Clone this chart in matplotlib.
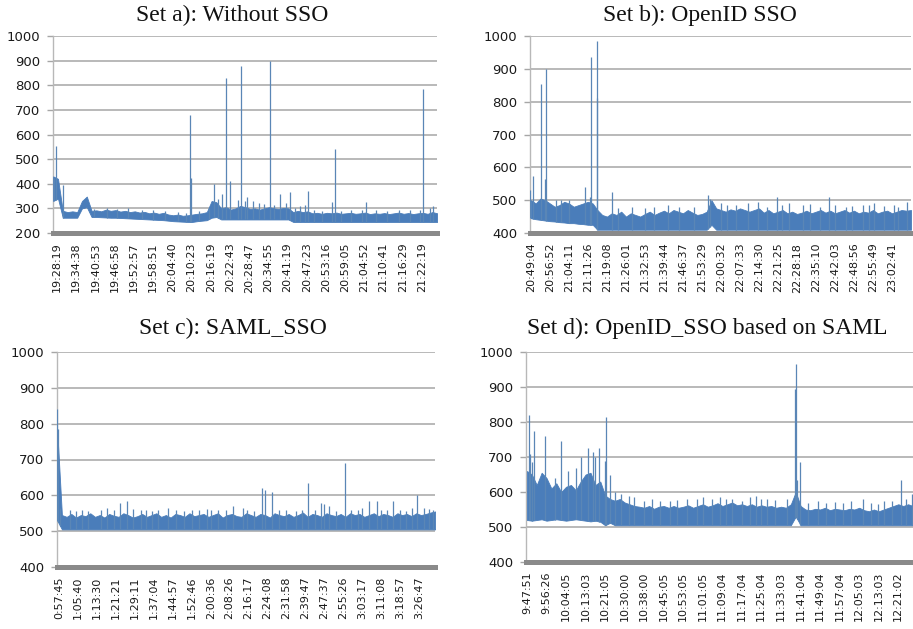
import numpy as np
import matplotlib
matplotlib.use("Agg")
import matplotlib.pyplot as plt

# ---------------- data ----------------
titles = ["Set a): Without SSO", "Set b): OpenID SSO",
          "Set c): SAML_SSO", "Set d): OpenID_SSO based on SAML"]

a_ticks = ["19:28:19", "19:34:38", "19:40:53", "19:46:58", "19:52:57", "19:58:51",
           "20:04:40", "20:10:23", "20:16:19", "20:22:43", "20:28:47", "20:34:55",
           "20:41:19", "20:47:23", "20:53:16", "20:59:05", "21:04:52", "21:10:41",
           "21:16:29", "21:22:19"]
b_ticks = ["20:49:04", "20:56:52", "21:04:11", "21:11:26", "21:19:08", "21:26:01",
           "21:32:53", "21:39:44", "21:46:37", "21:53:29", "22:00:32", "22:07:33",
           "22:14:30", "22:21:25", "22:28:18", "22:35:10", "22:42:03", "22:48:56",
           "22:55:49", "23:02:41"]
c_ticks = ["0:57:45", "1:05:40", "1:13:30", "1:21:21", "1:29:11", "1:37:04",
           "1:44:57", "1:52:46", "2:00:36", "2:08:26", "2:16:17", "2:24:08",
           "2:31:58", "2:39:47", "2:47:37", "2:55:26", "3:03:17", "3:11:08",
           "3:18:57", "3:26:47"]
d_ticks = ["9:47:51", "9:56:26", "10:04:05", "10:13:03", "10:21:05", "10:30:00",
           "10:38:00", "10:45:05", "10:53:05", "11:01:05", "11:09:04", "11:17:04",
           "11:25:04", "11:33:03", "11:41:04", "11:49:04", "11:57:04", "12:05:03",
           "12:13:03", "12:21:02"]

# upper / lower envelope of the dense response-time band (ms)
a_high = [430, 420, 290, 285, 288, 285, 330, 348, 290, 292,
          288, 295, 290, 293, 287, 290, 285, 288, 283, 286,
          280, 283, 278, 282, 275, 272, 275, 270, 272, 275,
          278, 280, 285, 330, 325, 300, 305, 295, 300, 310,
          305, 298, 300, 295, 300, 305, 300, 298, 302, 300,
          285, 290, 285, 288, 280, 282, 278, 282, 280, 283,
          278, 280, 282, 278, 280, 283, 277, 280, 278, 281,
          277, 280, 283, 278, 281, 277, 280, 282, 278, 285,
          280]
a_low = ([330, 340, 262, 262, 262, 262, 300, 305, 265, 265,
          264, 263, 262, 262, 261, 260, 259, 258, 257, 256,
          255, 254, 253, 252, 250, 248, 247, 246, 245, 245,
          248, 250, 252, 262, 265, 255, 255, 255, 255, 255,
          255, 255, 255, 255, 255, 255, 255, 255, 255, 255]
         + [245] * 31)
a_spike_x = [-0.07, -0.15, 0.3, 6.95, 6.98, 8.16, 8.6, 8.79, 9.0, 9.4, 9.57, 9.8,
             9.9, 10.2, 11.1, 11.6, 12.15, 12.65, 12.9, 13.05, 14.3, 14.48, 16.07,
             19.08, 19.6,
             1.9, 2.6, 3.1, 3.7, 4.4, 5.0, 5.6, 6.3, 6.7, 7.4, 7.9, 8.4, 10.5, 10.8,
             11.3, 11.9, 12.4, 13.4, 13.8, 14.8, 15.3, 15.9, 16.6, 17.2, 17.8, 18.4,
             18.9, 19.4]
a_spike_y = [555, 425, 395, 680, 425, 400, 360, 830, 410, 335, 880, 330,
             345, 330, 900, 360, 365, 310, 315, 370, 325, 540, 325,
             785, 310,
             298, 300, 296, 300, 295, 292, 290, 285, 282, 290, 300, 340, 320, 318,
             315, 320, 300, 295, 290, 290, 295, 292, 293, 290, 295, 292,
             295, 300]

b_high = [500, 490, 505, 500, 490, 480, 485, 495, 490, 480,
          485, 490, 495, 490, 470, 455, 450, 460, 455, 465,
          450, 460, 455, 450, 458, 465, 455, 462, 468, 460,
          470, 465, 460, 470, 462, 455, 458, 465, 500, 475,
          470, 465, 472, 468, 475, 470, 465, 470, 475, 462,
          470, 460, 465, 470, 460, 465, 458, 462, 468, 460,
          465, 470, 462, 468, 460, 465, 470, 462, 468, 460,
          465, 462, 470, 460, 465, 468, 460, 465, 470, 468,
          470]
b_low = ([445, 442, 440, 438, 436, 435, 433, 432, 430, 430, 428, 427, 425, 425]
         + [410] * 24 + [425] + [410] * 42)
b_spike_x = [-0.05, 0.1, 0.53, 0.74, 0.77, 1.3, 1.6, 2.0, 2.85, 3.1, 3.16, 3.45,
             3.5, 4.25, 6.0, 7.8, 9.3, 9.4, 10.3, 11.95, 12.95, 13.6, 14.3, 15.7,
             16.6, 17.5, 18.05, 19.3, 19.77,
             4.6, 5.3, 6.5, 7.2, 8.6, 10.0, 10.8, 11.4, 12.4, 13.2, 14.7, 15.2,
             16.0, 16.9, 17.8, 18.6, 19.1]
b_spike_y = [530, 575, 855, 565, 900, 500, 500, 500, 540, 510, 935, 985,
             810, 525, 475, 480, 515, 505, 485, 495, 510, 490, 485, 510,
             480, 485, 490, 480, 495,
             475, 480, 478, 485, 480, 490, 485, 490, 480, 485, 488, 480,
             485, 482, 485, 482, 485]

c_high = [785,
          545, 540, 548, 538, 545, 542, 550, 540, 545, 538,
          548, 543, 540, 550, 545, 538, 542, 548, 540, 545,
          550, 540, 545, 538, 548, 545, 540, 550, 542, 545,
          548, 540, 545, 550, 538, 545, 548, 542, 540, 550,
          545, 540, 548, 545, 538, 550, 545, 542, 548, 540,
          545, 552, 540, 548, 545, 540, 550, 545, 542, 548,
          540, 550, 545, 548, 540, 545, 550, 542, 548, 545,
          540, 550, 545, 548, 542, 550, 545, 548, 552, 555]
c_low = [530] + [505] * 80
c_spike_x = [-0.12, -0.05, 0.05, 0.6, 1.5, 2.55, 2.9, 3.2, 3.57, 4.3, 4.9, 5.73,
             6.15, 7.4, 8.0, 9.2, 9.7, 10.73, 10.87, 11.26, 12.0, 12.5, 13.12,
             13.8, 13.98, 14.25, 15.09, 15.8, 16.36, 16.8, 17.3, 17.64, 18.3,
             18.88, 19.27, 19.75,
             0.9, 1.2, 2.2, 3.9, 4.6, 5.2, 6.6, 7.0, 7.8, 8.4, 8.8, 9.9, 10.3,
             11.6, 12.8, 13.5, 14.6, 15.4, 16.0, 17.0, 18.0, 18.6, 19.5]
c_spike_y = [840, 785, 565, 560, 555, 565, 560, 580, 585, 560, 555, 565,
             560, 560, 560, 570, 565, 620, 615, 610, 560, 555, 635,
             580, 575, 570, 690, 560, 585, 585, 560, 585, 555,
             600, 565, 560,
             555, 558, 558, 562, 558, 560, 555, 558, 562, 558, 560, 560, 555,
             560, 558, 560, 555, 560, 565, 560, 560, 565, 562]

d_high = [660, 650, 620, 655, 640, 610, 625, 600, 615, 620,
          605, 630, 650, 655, 620, 630, 590, 580, 575, 580,
          570, 565, 560, 558, 555, 560, 552, 558, 560, 555,
          560, 555, 558, 562, 555, 560, 565, 558, 562, 568,
          560, 565, 570, 562, 565, 560, 565, 558, 562, 558,
          560, 555, 558, 555, 565, 600, 560, 550, 548, 552,
          550, 555, 548, 552, 550, 548, 552, 550, 555, 548,
          545, 550, 545, 550, 555, 560, 565, 560, 565, 560]
d_low = ([520, 518, 520, 522, 518, 520, 522, 520, 518, 520, 522, 520, 518, 516, 518, 515]
         + [505, 512] + [505] * 37 + [530] + [505] * 24)
d_spike_x = [0.08, 0.13, 0.25, 0.37, 0.93, 1.43, 1.73, 2.12, 2.5, 2.75, 3.14, 3.36,
             3.5, 3.7, 3.99, 4.06, 4.23, 4.5, 5.5, 6.0, 7.3, 8.7, 9.5, 10.5, 11.0,
             11.73, 12.3, 13.72, 13.78, 13.83, 14.0, 15.3, 16.6, 17.2, 18.3, 19.15,
             19.7,
             4.8, 5.2, 6.4, 6.8, 7.7, 8.2, 9.0, 9.9, 10.2, 11.4, 12.0, 12.7, 13.3,
             14.4, 14.9, 15.8, 16.2, 17.6, 18.0, 18.7, 19.4]
d_spike_y = [820, 710, 685, 775, 760, 640, 745, 660, 670, 700, 725, 715,
             700, 725, 690, 815, 650, 600, 585, 575, 575, 580, 580, 580, 575,
             590, 580, 895, 965, 635, 685, 570, 575, 580, 575, 635,
             595,
             595, 590, 580, 575, 578, 580, 585, 585, 580, 585, 580, 578, 580,
             570, 575, 572, 570, 570, 565, 575, 580]

# ---------------- layout ----------------
W, H = 913, 629
fig = plt.figure(figsize=(W / 100, H / 100), dpi=100)

def px_axes(l, r, t, b):
    return fig.add_axes([l / W, 1 - b / H, (r - l) / W, (b - t) / H])

panels = [
    dict(rect=(53, 437, 36, 233), ticks=a_ticks, high=a_high, low=a_low,
         sx=a_spike_x, sy=a_spike_y, xr=(-0.21, 19.79), env=(-0.2, 19.8), ylim=(200, 1000),
         title_xy=(232, 15)),
    dict(rect=(530, 911, 36, 233), ticks=b_ticks, high=b_high, low=b_low,
         sx=b_spike_x, sy=b_spike_y, xr=(-0.05, 20.0), env=(0.0, 20.0), ylim=(400, 1000),
         title_xy=(700, 15)),
    dict(rect=(57, 435, 352, 567), ticks=c_ticks, high=c_high, low=c_low,
         sx=c_spike_x, sy=c_spike_y, xr=(-0.11, 19.84), env=(-0.1, 19.85), ylim=(400, 1000),
         title_xy=(233, 328)),
    dict(rect=(526, 913, 352, 562), ticks=d_ticks, high=d_high, low=d_low,
         sx=d_spike_x, sy=d_spike_y, xr=(-0.05, 19.77), env=(0.0, 19.77), ylim=(400, 1000),
         title_xy=(707, 328)),
]

band_color = "#4a7dba"
spike_color = "#5a86b6"
grid_color = "#a6a6a6"

for p, title in zip(panels, titles):
    l, r, t, b = p["rect"]
    ax = px_axes(l, r, t, b)
    x = np.linspace(p["env"][0], p["env"][1], len(p["high"]))
    ax.fill_between(x, p["low"], p["high"], color=band_color, lw=0.6,
                    edgecolor=band_color, zorder=3)
    base = np.interp(p["sx"], x, p["low"])
    ax.vlines(p["sx"], base, p["sy"], color=spike_color, lw=0.9, zorder=3)

    ax.set_xlim(*p["xr"])
    ax.set_ylim(*p["ylim"])
    ax.set_yticks(np.arange(p["ylim"][0], 1001, 100))
    ax.set_xticks(np.arange(len(p["ticks"])))
    ax.set_xticklabels(p["ticks"], rotation=90, fontsize=8, family="DejaVu Sans",
                       color="#1a1a1a")
    for lab in ax.get_yticklabels():
        lab.set_fontsize(9.5)
        lab.set_color("#1a1a1a")
    ax.tick_params(axis="x", length=0, pad=7)
    ax.tick_params(axis="y", length=4, width=1.0, color=grid_color, pad=5)
    ax.yaxis.grid(True, color=grid_color, lw=1.1, zorder=1)
    ax.set_axisbelow(True)
    for s in ("top", "right"):
        ax.spines[s].set_visible(False)
    ax.spines["left"].set_color("#b8b8b8")
    ax.spines["left"].set_linewidth(1.0)
    ax.spines["bottom"].set_color("#8a8a8a")
    ax.spines["bottom"].set_linewidth(3.6)
    ax.spines["bottom"].set_zorder(4)

    tx, ty = p["title_xy"]
    fig.text(tx / W, 1 - ty / H, title, ha="center", va="center",
             fontsize=17, family="Liberation Serif", color="#111111")

fig.savefig("out.png", dpi=100)
